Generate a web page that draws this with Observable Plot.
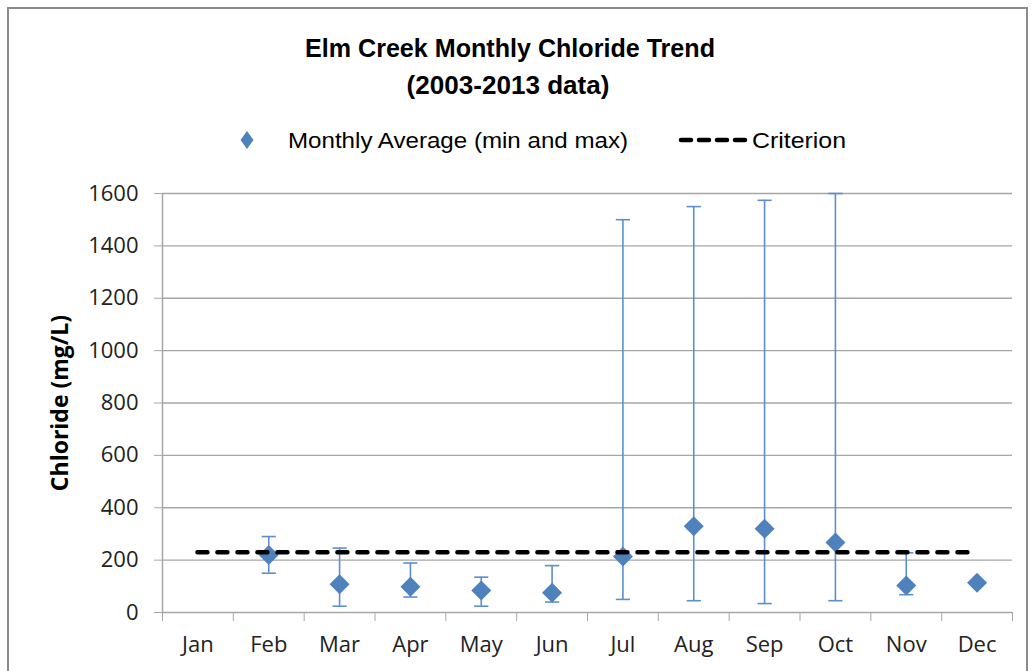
<!DOCTYPE html>
<html>
<head>
<meta charset="utf-8">
<script src="https://cdn.jsdelivr.net/npm/d3@7"></script>
<script src="https://cdn.jsdelivr.net/npm/@observablehq/plot@0.6"></script>
<style>
  html, body { margin: 0; padding: 0; background: #fff; }
  body { width: 1034px; height: 671px; overflow: hidden; position: relative; }
  #frame { position: absolute; left: 7px; top: 7px; width: 1021px; height: 720px; border: 2px solid #8a8a8a; box-sizing: border-box; }
  #header { position: absolute; left: 0; top: 0; }
  #chart { position: absolute; left: 0; top: 170px; }
</style>
</head>
<body>
<div id="frame"></div>
<svg id="header" width="1034" height="170" font-family="'Liberation Sans Narrow', 'Liberation Sans', Arial, sans-serif">
  <text x="510" y="57" text-anchor="middle" font-size="25" font-weight="bold" fill="#000" textLength="410" lengthAdjust="spacingAndGlyphs">Elm Creek Monthly Chloride Trend</text>
  <text x="508" y="94" text-anchor="middle" font-size="25" font-weight="bold" fill="#000" textLength="203" lengthAdjust="spacingAndGlyphs">(2003-2013 data)</text>
  <path d="M247,131 L253.5,140 L247,149 L240.5,140 Z" fill="#4f81bd"></path>
  <text x="288" y="148" font-size="22" fill="#000" textLength="340" lengthAdjust="spacingAndGlyphs">Monthly Average (min and max)</text>
  <line x1="681" y1="140" x2="750" y2="140" stroke="#000" stroke-width="4.5" stroke-dasharray="10,8" stroke-linecap="round"></line>
  <text x="752" y="148" font-size="22" fill="#000" textLength="94" lengthAdjust="spacingAndGlyphs">Criterion</text>
</svg>
<div id="chart"></div>
<script>
const months = ["Jan","Feb","Mar","Apr","May","Jun","Jul","Aug","Sep","Oct","Nov","Dec"];
const avgValues = [null, 220, 108, 98, 84, 75, 214, 329, 320, 267, 103, 114];
const minValues = [null, 150, 24, 59, 24, 40, 50, 45, 34, 45, 68, null];
const maxValues = [null, 290, 246, 189, 135, 179, 1500, 1550, 1574, 1600, 228, null];
const criterion = 230;
const yTicks = [0, 200, 400, 600, 800, 1000, 1200, 1400, 1600];

const rows = months.map((m, i) => ({ i, c: i + 0.5, month: m, avg: avgValues[i], min: minValues[i], max: maxValues[i] }));
const pts = rows.filter(d => d.avg != null);
const bars = rows.filter(d => d.min != null && d.max != null);
const caps = bars.flatMap(d => [{ c: d.c, v: d.min }, { c: d.c, v: d.max }]);

const blue = "#4f81bd";
const barBlue = "#5b8fd0";
const grid = "#a6a6a6";

const chart = Plot.plot({
  width: 1034,
  height: 501,
  marginTop: 23,
  marginBottom: 59,
  marginLeft: 162,
  marginRight: 22,
  x: { type: "linear", domain: [0, 12] },
  y: { domain: [0, 1600] },
  style: { fontFamily: "'Open Sans', sans-serif", fontSize: "22px", color: "#222", background: "transparent", overflow: "visible" },
  marks: [
    Plot.gridY(yTicks, { stroke: grid, strokeOpacity: 1, strokeWidth: 1.3 }),
    Plot.axisY(yTicks, { tickSize: 8, tickPadding: 16, stroke: grid, fill: "#222", label: null, tickFormat: d => String(d) }),
    Plot.ruleX([0], { stroke: grid, strokeWidth: 1.5 }),
    Plot.axisX(d3.range(13), { tickSize: 9, stroke: grid, tickFormat: () => "", label: null }),
    Plot.axisX(rows.map(d => d.c), { tickSize: 0, tickPadding: 24, fill: "#222", label: null, tickFormat: d => months[Math.floor(d)] }),
    Plot.ruleX(bars, { x: "c", y1: "min", y2: "max", stroke: barBlue, strokeWidth: 1.6 }),
    Plot.link(caps, { x1: d => d.c - 0.1, x2: d => d.c + 0.1, y1: "v", y2: "v", stroke: barBlue, strokeWidth: 1.6 }),
    Plot.dot(pts, { x: "c", y: "avg", symbol: "diamond2", r: 9, fill: blue, stroke: "none" }),
    Plot.ruleY([criterion], { x1: 0.5, x2: 11.5, stroke: "#000", strokeWidth: 4.5, strokeDasharray: "10,10", strokeLinecap: "round" }),
    Plot.text(["Chloride (mg/L)"], { frameAnchor: "left", textAnchor: "middle", rotate: -90, dx: -102, text: d => d, fontWeight: "bold", fontSize: 23, fill: "#000" })
  ]
});
document.getElementById("chart").appendChild(chart);
</script>
</body>
</html>
